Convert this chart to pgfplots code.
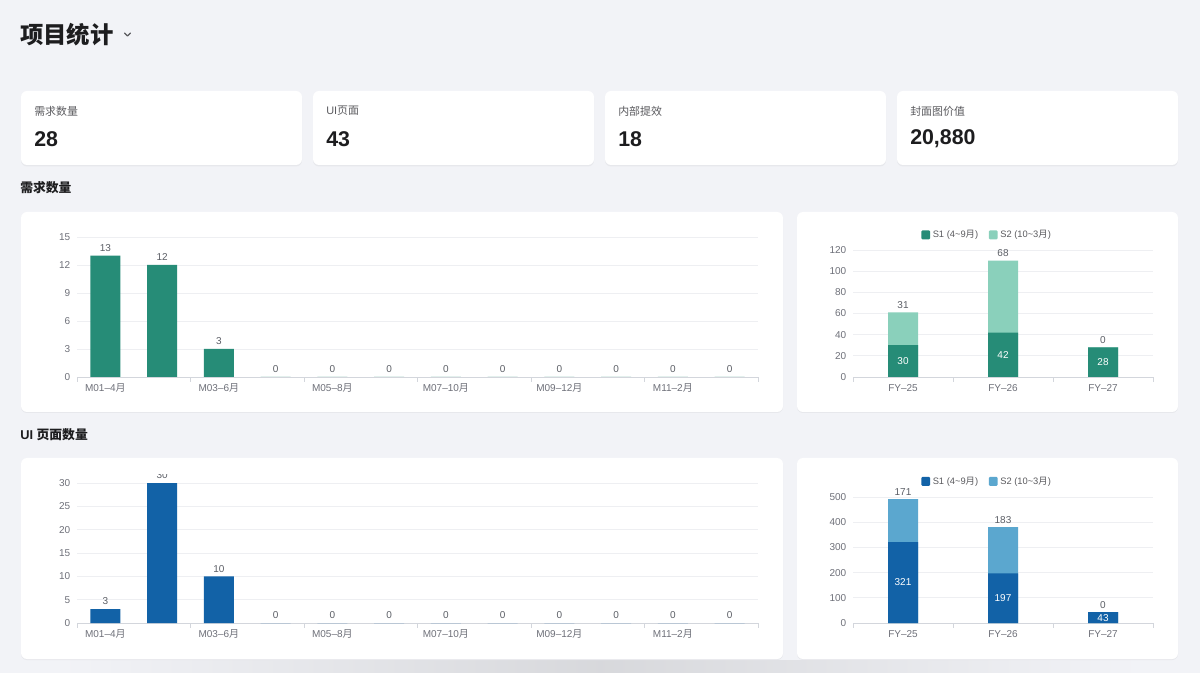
\documentclass[border=0pt]{standalone}
\usepackage{pgfplots}
\pgfplotsset{compat=1.18}
\usepackage{pgfplotstable}
\usepackage{fontspec}
\setmainfont{Liberation Sans}
\newfontfamily\cjk{Noto Sans CJK SC}

\definecolor{bg}{HTML}{F2F3F7}
\definecolor{cardline}{HTML}{E7E8EC}
\definecolor{titlec}{HTML}{1D1D1F}
\definecolor{labelc}{HTML}{5A5A5E}
\definecolor{tickc}{HTML}{6E7079}
\definecolor{valc}{HTML}{5C5F66}
\definecolor{gridc}{HTML}{EEEFF2}
\definecolor{axisc}{HTML}{D3D6DC}
\definecolor{gA}{HTML}{268C77}
\definecolor{gB}{HTML}{8AD0BB}
\definecolor{bA}{HTML}{1262A7}
\definecolor{bB}{HTML}{5BA7CF}

% monthly counts
\pgfplotstableread{
x v
0 13
1 12
2 3
3 0
4 0
5 0
6 0
7 0
8 0
9 0
10 0
11 0
}\reqmonth
\pgfplotstableread{
x v
0 3
1 30
2 10
3 0
4 0
5 0
6 0
7 0
8 0
9 0
10 0
11 0
}\uimonth
% fiscal years, first and second half
\pgfplotstableread{
x s1 s2
0 30 31
1 42 68
2 28 0
}\reqfy
\pgfplotstableread{
x s1 s2
0 321 171
1 197 183
2 43 0
}\uify

\newcommand\fs[1]{\fontsize{#1}{#1}\selectfont}
\newcommand\yue{{\cjk 月}}

\pgfplotsset{
  dash/.style={
    scale only axis,
    axis x line=bottom, axis y line=left,
    axis line style={-},
    x axis line style={draw=axisc, line width=0.6pt},
    y axis line style={draw=none},
    ymajorgrids, major grid style={draw=gridc, line width=0.6pt},
    major tick length=0pt,
    minor tick length=3.5pt,
    tick align=outside,
    minor tick style={draw=axisc, line width=0.6pt},
    ticklabel style={font=\fs{7.5}, text=tickc},
    yticklabel style={xshift=-1.5pt},
    xticklabel style={yshift=-1.8pt},
    /pgf/number format/assume math mode=true,
    ymin=0,
    clip=false,
  },
  above/.style={
    nodes near coords, point meta=explicit,
    every node near coord/.style={font=\fs{7.5}, text=valc, anchor=south, inner sep=2.8pt},
  },
  monthly/.style={
    dash, width=510.75pt, height=105pt,
    xmin=-0.5, xmax=11.5,
    xtick={0,2,4,6,8,10},
    xticklabels={M01–4\yue,M03–6\yue,M05–8\yue,M07–10\yue,M09–12\yue,M11–2\yue},
    minor xtick={-0.5,1.5,3.5,5.5,7.5,9.5,11.5},
    ybar, bar width=22.5pt,
  },
  yearly/.style={
    dash, width=225pt,
    xmin=-0.5, xmax=2.5,
    xtick={0,1,2},
    xticklabels={FY–25,FY–26,FY–27},
    minor xtick={-0.5,0.5,1.5,2.5},
    ybar, bar width=22.5pt, bar shift=0pt,
    legend columns=2,
    legend style={draw=none, fill=none, font=\fs{7}, text=labelc,
      anchor=center, inner sep=0pt,
      /tikz/every even column/.append style={column sep=6pt}},
  },
  % label centred inside the lower segment
  inner/.style={
    nodes near coords, point meta=explicit,
    every node near coord/.style={font=\fs{7.5}, text=white, anchor=center, inner sep=0pt},
  },
  sq/.style={legend image code/.code={\fill[##1, rounded corners=0.8pt] (0pt,-3.2pt) rectangle (6.6pt,3.4pt);}},
}

\begin{document}
\begin{tikzpicture}
\useasboundingbox (0,0) rectangle (900pt,-504.75pt);
\fill[bg] (0,0) rectangle (900pt,-504.75pt);

\begin{scope}[x=0.75pt, y=-0.75pt]
  % soft shade along the lower edge
  \shade[left color=bg, right color=bg, middle color=black!11!bg] (60,660) rectangle (1140,673);
  \fill[bg] (0,655) rectangle (60,673);
  \fill[bg] (1140,655) rectangle (1200,673);

  % page title
  \node[anchor=west, inner sep=0, font=\fs{17.5}\cjk\bfseries, text=titlec] at (20,35) {项目统计};
  \draw[labelc, line width=0.9pt, line cap=round, line join=round] (124.5,33) -- (127.5,36) -- (130.5,33);

  % summary cards
  \foreach \x/\lab/\val in {21/{\cjk 需求数量}/28, 313/{UI\cjk 页面}/43, 605/{\cjk 内部提效}/18, 897/{\cjk 封面图价值}/{20,880}}{
    \fill[cardline, rounded corners=4.5pt] (\x,92) rectangle ++(281,74.5);
    \fill[white, rounded corners=4.5pt] (\x,91) rectangle ++(281,74);
    \node[anchor=west, inner sep=0, font=\fs{8.2}, text=labelc] at (\x+13,111) {\lab};
    \node[anchor=west, inner sep=0, font=\fs{16}\bfseries, text=titlec] at (\x+13,139) {\val};
  }

  % section headings
  \node[anchor=west, inner sep=0, font=\fs{9.6}\bfseries, text=titlec] at (20,188) {\cjk 需求数量};
  \node[anchor=west, inner sep=0, font=\fs{9.6}\bfseries, text=titlec] at (20,435) {UI {\cjk 页面数量}};

  % chart panels
  \foreach \xa/\ya/\xb/\yb in {21/212/783/412, 797/212/1178/412, 21/458/783/659, 797/458/1178/659}{
    \fill[cardline, rounded corners=4.5pt] (\xa,\ya+1) rectangle (\xb,\yb+1);
    \fill[white, rounded corners=4.5pt] (\xa,\ya) rectangle (\xb,\yb);
  }
\end{scope}

% requirements per month
\begin{axis}[monthly, at={(57.75pt,-282.75pt)}, anchor=south west,
  ymax=15, ytick={0,3,...,15}]
  \addplot[fill=gA, draw=none, above] table[x=x, y=v, meta=v] {\reqmonth};
\end{axis}

% requirements per fiscal year: full stack in the light colour, first half over it
\begin{axis}[yearly, at={(639.75pt,-282.75pt)}, anchor=south west,
  height=95.25pt, ymax=120, ytick={0,20,...,120},
  legend style={at={(0.448,1.118)}}]
  \addplot[fill=gB, draw=none, forget plot, above] table[x=x, y expr=\thisrow{s1}+\thisrow{s2}, meta=s2] {\reqfy};
  \addplot[fill=gA, draw=none, forget plot] table[x=x, y=s1] {\reqfy};
  \addplot[draw=none, fill=none, forget plot, inner] table[x=x, y expr=\thisrow{s1}/2, meta=s1] {\reqfy};
  \addlegendimage{fill=gA, draw=none, sq}
  \addlegendimage{fill=gB, draw=none, sq}
  \legend{S1 (4\textasciitilde9\yue), S2 (10\textasciitilde3\yue)}
\end{axis}

% UI pages per month
\begin{scope}
\clip (15.75pt,-355.9pt) rectangle (587.25pt,-494.25pt);
\begin{axis}[monthly, at={(57.75pt,-467.25pt)}, anchor=south west,
  ymax=30, ytick={0,5,...,30}]
  \addplot[fill=bA, draw=none, above] table[x=x, y=v, meta=v] {\uimonth};
\end{axis}
\end{scope}

% UI pages per fiscal year
\begin{axis}[yearly, at={(639.75pt,-467.25pt)}, anchor=south west,
  height=94.5pt, ymax=500, ytick={0,100,...,500},
  legend style={at={(0.448,1.123)}}]
  \addplot[fill=bB, draw=none, forget plot, above] table[x=x, y expr=\thisrow{s1}+\thisrow{s2}, meta=s2] {\uify};
  \addplot[fill=bA, draw=none, forget plot] table[x=x, y=s1] {\uify};
  \addplot[draw=none, fill=none, forget plot, inner] table[x=x, y expr=\thisrow{s1}/2, meta=s1] {\uify};
  \addlegendimage{fill=bA, draw=none, sq}
  \addlegendimage{fill=bB, draw=none, sq}
  \legend{S1 (4\textasciitilde9\yue), S2 (10\textasciitilde3\yue)}
\end{axis}
\end{tikzpicture}
\end{document}
